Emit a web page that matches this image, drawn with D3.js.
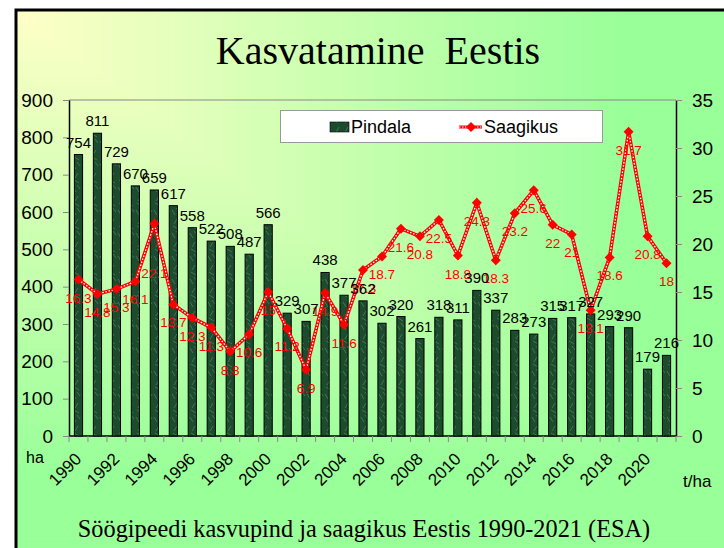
<!DOCTYPE html>
<html><head><meta charset="utf-8">
<script src="https://cdn.jsdelivr.net/npm/d3@7"></script>
<style>body{margin:0;background:#fff}svg{display:block}</style>
</head><body><svg id="c" width="724" height="548"></svg>
<script>
const years = [1990,1991,1992,1993,1994,1995,1996,1997,1998,1999,2000,2001,2002,2003,2004,2005,2006,2007,2008,2009,2010,2011,2012,2013,2014,2015,2016,2017,2018,2019,2020,2021];
const pindala = [754,811,729,670,659,617,558,522,508,487,566,329,307,438,377,362,302,320,261,318,311,390,337,283,273,315,317,327,293,290,179,216];
const saagikus = [16.3,14.8,15.3,16.1,22.1,13.7,12.3,11.3,8.8,10.6,15,11.2,6.9,14.9,11.6,17.3,18.7,21.6,20.8,22.5,18.8,24.3,18.3,23.2,25.6,22,21,13.1,18.6,31.7,20.8,18];
const yearTickLabels = [1990,1992,1994,1996,1998,2000,2002,2004,2006,2008,2010,2012,2014,2016,2018,2020];
const leftTicks = [0,100,200,300,400,500,600,700,800,900];
const rightTicks = [0,5,10,15,20,25,30,35];
const seriesNames = ["Pindala","Saagikus"];
const titleText = "Kasvatamine  Eestis";
const captionText = "Söögipeedi kasvupind ja saagikus Eestis 1990-2021 (ESA)";
const leftUnit = "ha", rightUnit = "t/ha";

const sans = "'Liberation Sans', Arial, sans-serif";
const serif = "'Liberation Serif', 'Times New Roman', serif";
const svg = d3.select("#c");

// slide background: corner gradient inside a black frame
const fx = 16, fy = 10, fw = 720, fh = 545;
const bg = svg.append("g");
const interp = d3.interpolateRgb("#FFFFC8", "#99FF99");
const N = 150;
for (let i = N; i >= 1; i--) {
  const t = i / N;
  bg.append("rect").attr("x", fx).attr("y", fy)
    .attr("width", fw * t).attr("height", fh * t)
    .attr("fill", interp(Math.min(1, t / 0.85)));
}
svg.append("rect").attr("x", fx).attr("y", fy).attr("width", fw + 20).attr("height", fh + 20)
  .attr("fill", "none").attr("stroke", "#000").attr("stroke-width", 3);

// title and caption
svg.append("text").attr("x", 378).attr("y", 64).attr("text-anchor", "middle")
  .style("white-space", "pre").attr("font-family", serif).attr("font-size", 40).text(titleText);
svg.append("text").attr("x", 364).attr("y", 537).attr("text-anchor", "middle")
  .attr("font-family", serif).attr("font-size", 24.3).text(captionText);

// scales
const L = 69, R = 676, T = 100, B = 436;
const x = d3.scaleBand().domain(years).range([L, R]).padding(0);
const yL = d3.scaleLinear().domain([0, 900]).range([B, T]);
const yR = d3.scaleLinear().domain([0, 35]).range([B, T]);

// plot frame top line
svg.append("line").attr("x1", L).attr("x2", R).attr("y1", T).attr("y2", T).attr("stroke", "#888").attr("stroke-width", 1);

// axes
const gL = svg.append("g").attr("transform", `translate(${L},0)`)
  .call(d3.axisLeft(yL).tickValues(leftTicks).tickSize(6).tickPadding(10).tickSizeOuter(0));
const gR = svg.append("g").attr("transform", `translate(${R},0)`)
  .call(d3.axisRight(yR).tickValues(rightTicks).tickSize(6).tickPadding(10).tickSizeOuter(0));
[gL, gR].forEach(g => {
  g.select(".domain").attr("stroke", "#000").attr("stroke-width", 1.5);
  g.selectAll(".tick line").attr("stroke", "#888");
  g.selectAll(".tick text").attr("font-family", sans).attr("font-size", 19).attr("fill", "#000");
});

// x axis: ticks at band boundaries, rotated year labels
const gX = svg.append("g");
gX.append("line").attr("x1", L).attr("x2", R).attr("y1", B).attr("y2", B).attr("stroke", "#000").attr("stroke-width", 1.5);
gX.selectAll("line.tk").data(years.concat(["end"])).join("line").attr("class", "tk")
  .attr("x1", (d, i) => L + i * x.bandwidth()).attr("x2", (d, i) => L + i * x.bandwidth())
  .attr("y1", B).attr("y2", B + 6).attr("stroke", "#888");
gX.selectAll("text.yr").data(yearTickLabels).join("text").attr("class", "yr")
  .attr("transform", d => `translate(${x(d) + x.bandwidth() / 2 + 4},${B + 24}) rotate(-45)`)
  .attr("text-anchor", "end").attr("font-family", sans).attr("font-size", 17).text(d => d);

svg.append("text").attr("x", 26).attr("y", 463).attr("font-family", sans).attr("font-size", 16).text(leftUnit);
svg.append("text").attr("x", 683).attr("y", 487).attr("font-family", sans).attr("font-size", 17).text(rightUnit);

// bar texture
const defs = svg.append("defs");
const pat = defs.append("pattern").attr("id", "marble").attr("patternUnits", "userSpaceOnUse").attr("width", 9).attr("height", 23);
pat.append("rect").attr("width", 9).attr("height", 23).attr("fill", "#1c4b2e");
pat.append("path").attr("d", "M1,3 L4,8 M6,12 L3,17 M2,19 L7,22 M5,1 L8,5").attr("stroke", "#3f7556").attr("stroke-width", 1).attr("fill", "none");

// bars
const bw = 8.2;
const data = years.map((yr, i) => ({ yr, p: pindala[i], s: saagikus[i] }));
svg.append("g").selectAll("rect").data(data).join("rect")
  .attr("x", d => x(d.yr) + x.bandwidth() / 2 - bw / 2)
  .attr("y", d => yL(d.p)).attr("width", bw).attr("height", d => B - yL(d.p))
  .attr("fill", "url(#marble)").attr("stroke", "#000").attr("stroke-width", 1);

// yield line
const line = d3.line().x(d => x(d.yr) + x.bandwidth() / 2).y(d => yR(d.s));
svg.append("path").datum(data).attr("d", line).attr("fill", "none").attr("stroke", "#ff0000").attr("stroke-width", 3.6);
svg.append("path").datum(data).attr("d", line).attr("fill", "none").attr("stroke", "#fff").attr("stroke-width", 1.3).attr("stroke-dasharray", "1.6,1.6");
const diamond = s => `M0,${-s}L${s},0L0,${s}L${-s},0Z`;
svg.append("g").selectAll("path").data(data).join("path")
  .attr("transform", d => `translate(${x(d.yr) + x.bandwidth() / 2},${yR(d.s)})`)
  .attr("d", diamond(5)).attr("fill", "#ff0000");

// yield labels (below points)
const extraDrop = { 1994: 31 };
svg.append("g").selectAll("text").data(data).join("text")
  .attr("x", d => x(d.yr) + x.bandwidth() / 2)
  .attr("y", d => yR(d.s) + 23 + (extraDrop[d.yr] || 0))
  .attr("text-anchor", "middle").attr("font-family", sans).attr("font-size", 13.5).attr("fill", "#ff0000")
  .text(d => d.s);

// bar labels
svg.append("g").selectAll("text").data(data).join("text")
  .attr("x", d => x(d.yr) + x.bandwidth() / 2)
  .attr("y", d => yL(d.p) - 7)
  .attr("text-anchor", "middle").attr("font-family", sans).attr("font-size", 15).attr("fill", "#000")
  .text(d => d.p);

// legend
const lg = svg.append("g");
lg.append("rect").attr("x", 280.5).attr("y", 110.5).attr("width", 322).attr("height", 32).attr("fill", "#fff").attr("stroke", "#999");
lg.append("rect").attr("x", 330).attr("y", 122).attr("width", 19).attr("height", 10).attr("fill", "url(#marble)").attr("stroke", "#000").attr("stroke-width", 0.6);
lg.append("text").attr("x", 351).attr("y", 133).attr("font-family", sans).attr("font-size", 18).text(seriesNames[0]);
lg.append("line").attr("x1", 459).attr("x2", 482).attr("y1", 127).attr("y2", 127).attr("stroke", "#f00").attr("stroke-width", 3);
lg.append("line").attr("x1", 459).attr("x2", 482).attr("y1", 127).attr("y2", 127).attr("stroke", "#fff").attr("stroke-width", 1).attr("stroke-dasharray", "1.5,1.5");
lg.append("path").attr("transform", "translate(471,127)").attr("d", diamond(5)).attr("fill", "#f00");
lg.append("text").attr("x", 484).attr("y", 133).attr("font-family", sans).attr("font-size", 18).text(seriesNames[1]);
</script></body></html>
